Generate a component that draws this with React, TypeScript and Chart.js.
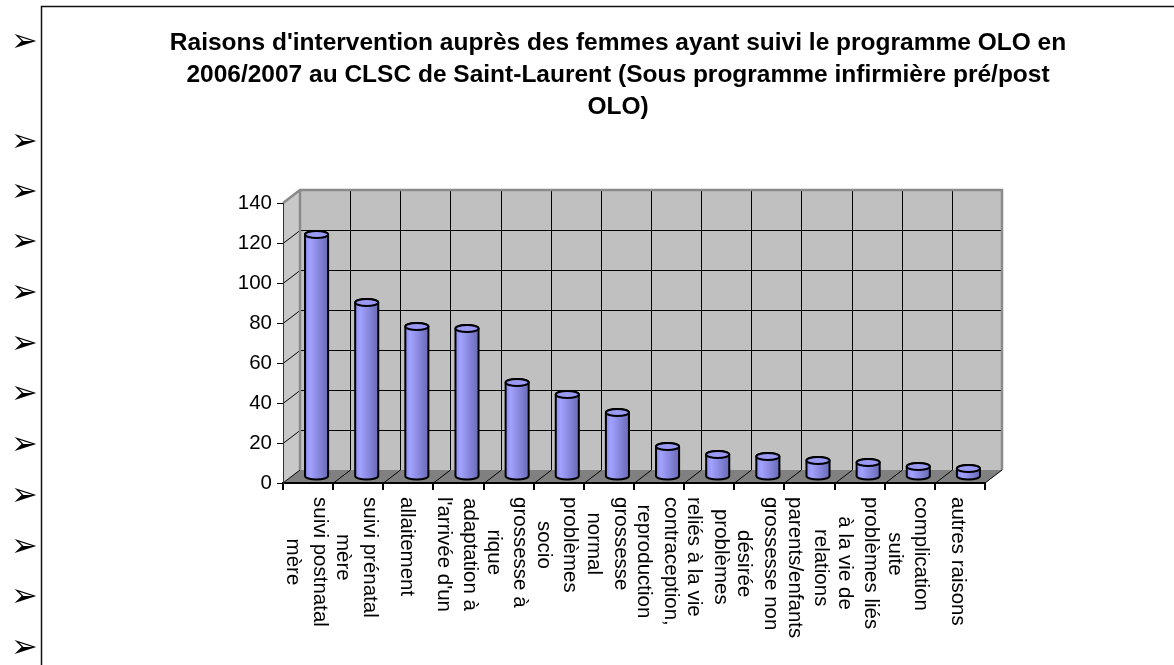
import React, { useEffect, useRef } from "react";
import { Chart, registerables } from "chart.js";

Chart.register(...registerables);

// ---------- data ----------
const titleLines = [
  "Raisons d'intervention auprès des femmes ayant suivi le programme OLO en",
  "2006/2007 au CLSC de Saint-Laurent (Sous programme infirmière pré/post",
  "OLO)",
];

const categories: string[][] = [
  ["suivi postnatal", "mère"],
  ["suivi prénatal", "mère"],
  ["allaitement"],
  ["adaptation à", "l'arrivée d'un"],
  ["grossesse à", "rique"],
  ["problèmes", "socio"],
  ["grossesse", "normal"],
  ["contraception,", "reproduction"],
  ["problèmes", "reliés à la vie"],
  ["grossesse non", "désirée"],
  ["relations", "parents/enfants"],
  ["problèmes liés", "à la vie de"],
  ["complication", "suite"],
  ["autres raisons"],
];

const values = [121, 87, 75, 74, 47, 41, 32, 15, 11, 10, 8, 7, 5, 4];

const yMin = 0;
const yMax = 140;
const yStep = 20;

// ---------- layout constants ----------
const W = 1174;
const H = 665;
const BULLET_Y = [43, 143, 193, 243, 294, 345, 395, 446, 497, 548, 598, 649];
const DX = 17; // 3D depth offset (back wall)
const DY = -13;
const BDX = 8.5; // bars sit at mid-depth
const BDY = -6.5;
const FONT = '"Liberation Sans", Arial, Helvetica, sans-serif';
const LABEL_SIZE = 20.5;
const LINE_H = 26.5;

const scenePlugin = {
  id: "scene3d",
  beforeDraw(chart: any) {
    const ctx: CanvasRenderingContext2D = chart.ctx;
    const { left: L, right: R, top: T, bottom: B } = chart.chartArea;
    const xs = chart.scales.x;
    const ys = chart.scales.y;
    ctx.save();
    ctx.fillStyle = "#ffffff";
    ctx.fillRect(0, 0, chart.width, chart.height);

    // outer box
    ctx.strokeStyle = "#111";
    ctx.lineWidth = 1.5;
    ctx.beginPath();
    ctx.moveTo(41.5, chart.height);
    ctx.lineTo(41.5, 6.5);
    ctx.lineTo(chart.width, 6.5);
    ctx.stroke();

    // bullets
    ctx.fillStyle = "#000";
    ctx.font = '32px "DejaVu Sans"';
    ctx.textAlign = "left";
    ctx.textBaseline = "middle";
    BULLET_Y.forEach((y) => ctx.fillText("\u27A2", 11, y));

    // title
    ctx.font = `bold 24.5px ${FONT}`;
    ctx.textAlign = "center";
    ctx.textBaseline = "alphabetic";
    titleLines.forEach((t, i) => ctx.fillText(t, 618, 50 + i * 32));

    const poly = (pts: number[][]) => {
      ctx.beginPath();
      pts.forEach(([x, y], i) => (i ? ctx.lineTo(x, y) : ctx.moveTo(x, y)));
      ctx.closePath();
    };

    // left wall
    ctx.fillStyle = "#c8c8c8";
    poly([[L, T], [L + DX, T + DY], [L + DX, B + DY], [L, B]]);
    ctx.fill();
    // back wall
    ctx.fillStyle = "#c0c0c0";
    ctx.fillRect(L + DX, T + DY, R - L, B - T);
    // floor
    ctx.fillStyle = "#808080";
    poly([[L, B], [R, B], [R + DX, B + DY], [L + DX, B + DY]]);
    ctx.fill();

    // grid lines
    ctx.strokeStyle = "#000";
    ctx.lineWidth = 1;
    ys.ticks.forEach((t: any) => {
      if (t.value <= yMin || t.value >= yMax) return;
      const y = Math.round(ys.getPixelForValue(t.value)) + 0.5;
      ctx.beginPath();
      ctx.moveTo(L + DX, y + DY);
      ctx.lineTo(R + DX, y + DY);
      ctx.moveTo(L, y);
      ctx.lineTo(L + DX, y + DY);
      ctx.stroke();
    });
    const n = chart.data.labels.length;
    for (let k = 1; k < n; k++) {
      const bx = Math.round((xs.getPixelForValue(k - 1) + xs.getPixelForValue(k)) / 2) + 0.5;
      ctx.beginPath();
      ctx.moveTo(bx + DX, T + DY);
      ctx.lineTo(bx + DX, B + DY);
      ctx.moveTo(bx, B);
      ctx.lineTo(bx + DX, B + DY);
      ctx.stroke();
    }

    // wall edges
    ctx.strokeStyle = "#8a8a8a";
    ctx.lineWidth = 2.5;
    ctx.beginPath();
    ctx.moveTo(L, T);
    ctx.lineTo(L + DX, T + DY);
    ctx.lineTo(R + DX, T + DY);
    ctx.lineTo(R + DX, B + DY);
    ctx.moveTo(L + DX, T + DY);
    ctx.lineTo(L + DX, B + DY);
    ctx.stroke();

    ctx.strokeStyle = "#000";
    ctx.lineWidth = 1;
    ctx.beginPath();
    ctx.moveTo(R, B);
    ctx.lineTo(R + DX, B + DY);
    ctx.moveTo(L, B);
    ctx.lineTo(L + DX, B + DY);
    ctx.stroke();
    ctx.restore();
  },
  afterDatasetsDraw(chart: any) {
    const ctx: CanvasRenderingContext2D = chart.ctx;
    const meta = chart.getDatasetMeta(0);
    ctx.save();
    meta.data.forEach((bar: any) => {
      const { x, y, base, width } = bar.getProps(["x", "y", "base", "width"], true);
      const cx = x + BDX;
      const top = y + BDY;
      const bot = base + BDY;
      const rx = width / 2;
      const ry = 3.6;
      const g = ctx.createLinearGradient(cx - rx, 0, cx + rx, 0);
      g.addColorStop(0, "#8a8aec");
      g.addColorStop(0.22, "#a2a2ff");
      g.addColorStop(0.6, "#8686dc");
      g.addColorStop(1, "#6a6ab8");
      ctx.beginPath();
      ctx.moveTo(cx - rx, top);
      ctx.lineTo(cx - rx, bot);
      ctx.ellipse(cx, bot, rx, ry, 0, Math.PI, 0, true);
      ctx.lineTo(cx + rx, top);
      ctx.ellipse(cx, top, rx, ry, 0, 0, Math.PI, true);
      ctx.closePath();
      ctx.fillStyle = g;
      ctx.fill();
      ctx.strokeStyle = "#000";
      ctx.lineWidth = 2;
      ctx.stroke();
      ctx.beginPath();
      ctx.ellipse(cx, top, rx, ry, 0, 0, Math.PI * 2);
      ctx.fillStyle = "#9a9af4";
      ctx.fill();
      ctx.stroke();
    });
    ctx.restore();
  },
  afterDraw(chart: any) {
    const ctx: CanvasRenderingContext2D = chart.ctx;
    const xs = chart.scales.x;
    const B = chart.chartArea.bottom;
    ctx.save();
    ctx.fillStyle = "#000";
    ctx.font = `${LABEL_SIZE}px ${FONT}`;
    ctx.textAlign = "center";
    ctx.textBaseline = "middle";
    (chart.data.labels as string[][]).forEach((lines, i) => {
      const cx = xs.getPixelForValue(i) - 2;
      const maxW = Math.max(...lines.map((l) => ctx.measureText(l).width));
      ctx.save();
      ctx.translate(cx, B + 14);
      ctx.rotate(Math.PI / 2);
      lines.forEach((l, k) => {
        const off = (k - (lines.length - 1) / 2) * LINE_H;
        ctx.fillText(l, maxW / 2, off);
      });
      ctx.restore();
    });
    ctx.restore();
  },
};

export default function App() {
  const ref = useRef<HTMLCanvasElement | null>(null);
  useEffect(() => {
    if (!ref.current) return;
    const chart = new Chart(ref.current, {
      type: "bar",
      data: {
        labels: categories,
        datasets: [
          {
            data: values,
            backgroundColor: "rgba(0,0,0,0)",
            borderWidth: 0,
            categoryPercentage: 1,
            barPercentage: 0.46,
          },
        ],
      },
      options: {
        animation: false,
        responsive: false,
        devicePixelRatio: 1,
        layout: { padding: { left: 223, right: 189, top: 203, bottom: 174 } },
        plugins: {
          legend: { display: false },
          tooltip: { enabled: false },
          title: { display: false },
        },
        scales: {
          x: {
            type: "category",
            offset: true,
            grid: {
              offset: true,
              drawOnChartArea: false,
              drawTicks: true,
              tickLength: 7,
              color: "#000",
              lineWidth: 2,
            },
            border: { display: true, color: "#000", width: 2 },
            ticks: { display: false },
            afterFit: (s: any) => {
              s.height = 8;
            },
          },
          y: {
            min: yMin,
            max: yMax,
            ticks: {
              stepSize: yStep,
              color: "#000",
              font: { family: FONT, size: LABEL_SIZE },
              padding: 5,
            },
            grid: {
              drawOnChartArea: false,
              tickLength: 6,
              color: "#000",
              lineWidth: 1,
            },
            border: { display: true, color: "#333", width: 1 },
            afterFit: (s: any) => {
              s.width = 60;
            },
          },
        },
      } as any,
      plugins: [scenePlugin],
    });
    return () => chart.destroy();
  }, []);
  return (
    <div style={{ position: "fixed", left: 0, top: 0, width: W, height: H, background: "#fff" }}>
      <canvas ref={ref} width={W} height={H} style={{ display: "block", width: W, height: H }} />
    </div>
  );
}
